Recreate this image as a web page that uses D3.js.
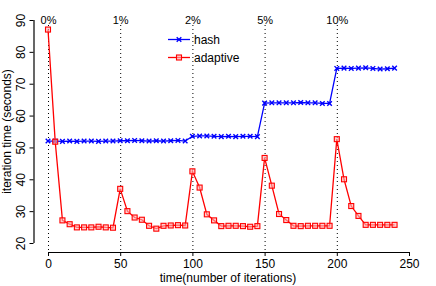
<!DOCTYPE html>
<html>
<head>
<meta charset="utf-8">
<script src="https://cdn.jsdelivr.net/npm/d3@7"></script>
<style>
  html, body { margin: 0; padding: 0; background: #fff; }
  svg { display: block; }
  text { font-family: "Liberation Sans", Arial, Helvetica, sans-serif; }
</style>
</head>
<body>
<svg id="chart" width="436" height="286"></svg>
<script>
// ---- data ----
const iterations = d3.range(0, 245, 5); // 0..240 step 5
const hashValues = [
  52.0, 52.0, 51.9, 52.0, 51.9, 52.0, 52.0, 51.9, 52.0, 52.0,
  52.1, 52.1, 52.2, 52.1, 52.0, 52.1, 52.0, 52.1, 52.2, 52.0,
  53.5, 53.6, 53.6, 53.5, 53.4, 53.5, 53.4, 53.5, 53.5, 53.4,
  63.9, 64.0, 64.0, 64.0, 64.0, 64.1, 64.0, 64.0, 63.8, 63.8,
  74.8, 74.9, 74.8, 74.9, 75.0, 74.8, 74.6, 74.7, 74.9
];
const adaptiveValues = [
  87.0, 51.8, 27.1, 25.9, 24.9, 24.9, 24.9, 25.1, 24.9, 24.8,
  37.0, 30.0, 28.0, 27.3, 25.4, 24.5, 25.4, 25.5, 25.6, 25.5,
  42.5, 37.4, 29.0, 27.1, 25.3, 25.4, 25.4, 25.3, 25.1, 25.3,
  46.7, 38.0, 29.1, 27.2, 25.4, 25.3, 25.4, 25.4, 25.4, 25.4,
  52.6, 40.0, 31.6, 28.5, 25.7, 25.7, 25.7, 25.7, 25.7
];
const markerIters = [0, 50, 100, 150, 200];
const markerLabels = ["0%", "1%", "2%", "5%", "10%"];
const xTicks = [0, 50, 100, 150, 200, 250];
const yTicks = [20, 30, 40, 50, 60, 70, 80, 90];
const seriesNames = ["hash", "adaptive"];
const seriesColors = ["#0000ff", "#ff0000"];

// ---- scales ----
const svg = d3.select("#chart");
const x = d3.scaleLinear().domain([0, 250]).range([48, 409]);
const y = d3.scaleLinear().domain([20, 90]).range([243, 20]);

// ---- axes ----
const xAxis = d3.axisBottom(x).tickValues(xTicks).tickSize(4).tickPadding(3).tickFormat(d3.format("d"));
const gx = svg.append("g").attr("transform", "translate(0,252)").call(xAxis);
gx.select(".domain").attr("d", `M${x(0)},0.5H${x(250)}`).attr("stroke", "#000").attr("stroke-width", 1.2);
gx.selectAll(".tick line").attr("stroke", "#000");
gx.selectAll(".tick text").attr("font-size", 12).attr("fill", "#000")
  .attr("font-family", "Liberation Sans, Arial, sans-serif");

const yAxis = d3.axisLeft(y).tickValues(yTicks).tickSize(4).tickPadding(0).tickFormat(d3.format("d"));
const gy = svg.append("g").attr("transform", "translate(33.5,0)").call(yAxis);
gy.select(".domain").attr("d", `M0.5,${y(20)}V${y(90)}`).attr("stroke", "#000").attr("stroke-width", 1.2);
gy.selectAll(".tick line").attr("stroke", "#000");
gy.selectAll(".tick text").remove();
gy.selectAll(".tick").append("text")
  .attr("transform", "translate(-13,0) rotate(-90)")
  .attr("text-anchor", "middle")
  .attr("dy", "0.35em")
  .attr("font-size", 12)
  .attr("fill", "#000")
  .attr("font-family", "Liberation Sans, Arial, sans-serif")
  .text(d => d);

// axis titles
svg.append("text")
  .attr("x", (x(0) + x(250)) / 2 - 0.5)
  .attr("y", 282)
  .attr("text-anchor", "middle")
  .attr("font-size", 12)
  .text("time(number of iterations)");
svg.append("text")
  .attr("transform", `translate(11,${(y(20) + y(90)) / 2}) rotate(-90)`)
  .attr("text-anchor", "middle")
  .attr("font-size", 12)
  .text("iteration time (seconds)");

// ---- vertical dotted markers ----
const vm = svg.append("g");
vm.selectAll("line").data(markerIters).join("line")
  .attr("x1", d => x(d) + 0.5).attr("x2", d => x(d) + 0.5)
  .attr("y1", 25).attr("y2", 251)
  .attr("stroke", "#000").attr("stroke-width", 1)
  .attr("stroke-dasharray", "1,3");
vm.selectAll("text").data(markerIters).join("text")
  .attr("x", d => x(d) + 0.5)
  .attr("y", 24)
  .attr("text-anchor", "middle")
  .attr("font-size", 11)
  .text((d, i) => markerLabels[i]);

// ---- series ----
const lineGen = d3.line().x(d => x(d[0])).y(d => y(d[1]));
const hashData = iterations.map((it, i) => [it, hashValues[i]]);
const adaptData = iterations.map((it, i) => [it, adaptiveValues[i]]);

function drawCross(g, data, color) {
  g.selectAll("path.m").data(data).join("path").attr("class", "m")
    .attr("d", d => {
      const cx = x(d[0]), cy = y(d[1]), r = 2.3;
      return `M${cx - r},${cy - r}L${cx + r},${cy + r}M${cx - r},${cy + r}L${cx + r},${cy - r}`;
    })
    .attr("stroke", color).attr("stroke-width", 1.4).attr("fill", "none");
}
function drawSquare(g, data, color) {
  g.selectAll("rect.m").data(data).join("rect").attr("class", "m")
    .attr("x", d => x(d[0]) - 2.5).attr("y", d => y(d[1]) - 2.5)
    .attr("width", 5).attr("height", 5)
    .attr("stroke", color).attr("stroke-width", 1.1).attr("fill", "#ffb0b0").attr("fill-opacity", 0.6);
}

const gh = svg.append("g");
gh.append("path").datum(hashData).attr("d", lineGen)
  .attr("fill", "none").attr("stroke", seriesColors[0]).attr("stroke-width", 1.3);
drawCross(gh, hashData, seriesColors[0]);

const ga = svg.append("g");
ga.append("path").datum(adaptData).attr("d", lineGen)
  .attr("fill", "none").attr("stroke", seriesColors[1]).attr("stroke-width", 1.3);
drawSquare(ga, adaptData, seriesColors[1]);

// ---- legend ----
const legY = [39.5, 57.5];
const lg = svg.append("g");
seriesNames.forEach((name, i) => {
  lg.append("line").attr("x1", 168).attr("x2", 190).attr("y1", legY[i]).attr("y2", legY[i])
    .attr("stroke", seriesColors[i]).attr("stroke-width", 1.3);
  const mg = lg.append("g");
  if (i === 0) {
    const cx = 179, cy = legY[i], r = 2.3;
    mg.append("path").attr("d", `M${cx - r},${cy - r}L${cx + r},${cy + r}M${cx - r},${cy + r}L${cx + r},${cy - r}`)
      .attr("stroke", seriesColors[i]).attr("stroke-width", 1.4);
  } else {
    mg.append("rect").attr("x", 179 - 2.5).attr("y", legY[i] - 2.5).attr("width", 5).attr("height", 5)
      .attr("stroke", seriesColors[i]).attr("stroke-width", 1.1).attr("fill", "#ffb0b0").attr("fill-opacity", 0.6);
  }
  lg.append("text").attr("x", 194).attr("y", legY[i]).attr("dy", "0.35em")
    .attr("font-size", 12).text(name);
});
</script>
</body>
</html>
